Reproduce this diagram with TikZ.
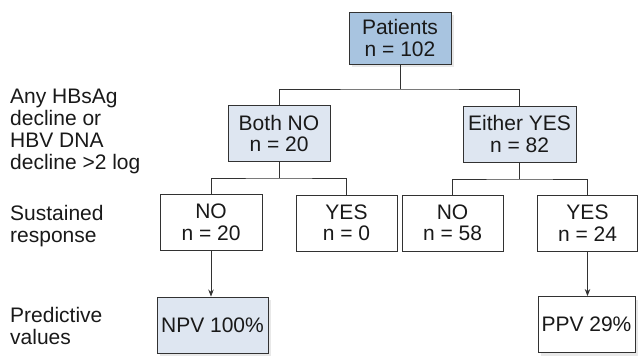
\documentclass[tikz,border=0pt]{standalone}
\usepackage{fontspec}
\setmainfont{Liberation Sans}
\usetikzlibrary{arrows.meta, shadows}
\definecolor{darkblue}{RGB}{168, 196, 224}
\definecolor{lightblue}{RGB}{222, 230, 241}
\definecolor{linegray}{RGB}{50, 50, 50}
\definecolor{textgray}{RGB}{25, 25, 25}
\tikzstyle{box} = [rectangle, minimum height=56pt,
                   text centered, align=center, draw=linegray,
                   text=textgray, line width=0.9pt, inner sep=2pt,
                   font=\fontsize{21}{21.5}\selectfont]
\tikzstyle{shade} = [drop shadow={opacity=0.18, shadow xshift=3pt, shadow yshift=-3pt}]
\tikzstyle{rowtext} = [align=left, anchor=north west, inner sep=0pt,
                       text=textgray, font=\fontsize{21}{21.8}\selectfont]
\tikzstyle{link} = [draw=linegray, line width=0.9pt]
\tikzstyle{arrow} = [link, -{Stealth[length=7pt, width=5.5pt]}]
\begin{document}
\begin{tikzpicture}[x=1pt, y=-1pt]
        \useasboundingbox (0,0) rectangle (641,356);

        % row labels
        \node (RowMarker) [rowtext] at (10,89) {Any HBsAg\\decline or\\HBV DNA\\decline >2 log};
        \node (RowResponse) [rowtext] at (10,205) {Sustained\\response};
        \node (RowPredict) [rowtext] at (10,307) {Predictive\\values};

        % tree
        \node (Patients) [box, shade, fill=darkblue, minimum width=102pt, minimum height=52pt] at (400,38) {Patients\\n = 102};

        \node (BothNo) [box, fill=lightblue, minimum width=102pt] at (279,133.5) {Both NO\\n = 20};
        \node (EitherYes) [box, fill=lightblue, minimum width=113pt] at (519.5,134) {Either YES\\n = 82};

        \node (NoA) [box, minimum width=102pt] at (211,222.5) {NO\\n = 20};
        \node (YesA) [box, minimum width=101pt] at (346.5,223) {YES\\n = 0};
        \node (NoB) [box, minimum width=101pt] at (452.5,223) {NO\\n = 58};
        \node (YesB) [box, minimum width=100pt] at (587.5,223) {YES\\n = 24};

        \node (NPV) [box, shade, fill=lightblue, minimum width=111pt] at (212.5,325) {NPV 100\%};
        \node (PPV) [box, shade, fill=white, minimum width=97pt] at (586.5,324.5) {PPV 29\%};

        % connectors
        \coordinate (SplitA) at (400,89);
        \coordinate (SplitB) at (279,178);
        \coordinate (SplitC) at (519.5,179);

        \draw [link] (Patients) -- (SplitA);
        \draw [link] (BothNo.north) |- (SplitA) -| (EitherYes.north);
        \draw [link] (BothNo) -- (SplitB);
        \draw [link] (NoA.north) |- (SplitB) -| (YesA.north);
        \draw [link] (EitherYes) -- (SplitC);
        \draw [link] (NoB.north) |- (SplitC) -| (YesB.north);

        \draw [arrow] (NoA) -- (NoA |- NPV.north);
        \draw [arrow] (YesB) -- (YesB |- PPV.north);

    \end{tikzpicture}
\end{document}
